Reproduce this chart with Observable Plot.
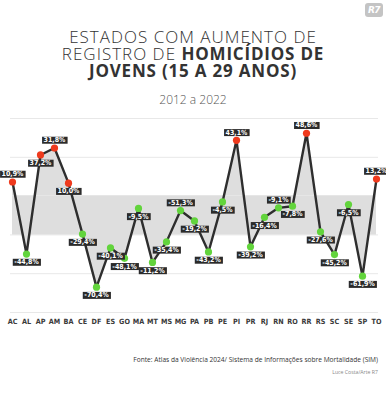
<!DOCTYPE html>
<html>
<head>
<meta charset="utf-8">
<script src="https://cdn.jsdelivr.net/npm/d3@7"></script>
<script src="https://cdn.jsdelivr.net/npm/@observablehq/plot@0.6"></script>
<style>
  html, body { margin: 0; padding: 0; background: #fff; }
  body { width: 386px; height: 400px; position: relative; overflow: hidden; font-family: "Open Sans", sans-serif; }
  #logo { position: absolute; left: 365px; top: 3px; width: 18px; height: 14px; background: #c4c4c4; border-radius: 3px;
          color: #fff; font: italic 700 9px/14px "DejaVu Sans", sans-serif; text-align: center; letter-spacing: -0.5px; }
  #title { position: absolute; top: 28px; left: 0; width: 386px; text-align: center; color: #333;
           font-size: 17px; line-height: 17px; font-weight: 300; letter-spacing: 1px; }
  #title div { height: 17px; }
  #title b { font-weight: 700; letter-spacing: 0.8px; }
  #sub { position: absolute; top: 91px; left: 0; width: 386px; text-align: center; color: #555; font-size: 12px; font-weight: 300; }
  #chart { position: absolute; top: 108px; left: 0; }
  #src { position: absolute; top: 355px; right: 8px; font-size: 6.6px; color: #333; }
  #credit { position: absolute; top: 368px; right: 8px; font-size: 5.2px; color: #888; }
</style>
</head>
<body>
<div id="logo">R7</div>
<div id="title"><div>ESTADOS COM AUMENTO DE</div><div>REGISTRO DE <b>HOMICÍDIOS DE</b></div><div><b>JOVENS (15 A 29 ANOS)</b></div></div>
<div id="sub">2012 a 2022</div>
<div id="chart"></div>
<div id="src">Fonte: Atlas da Violência 2024/ Sistema de Informações sobre Mortalidade (SIM)</div>
<div id="credit">Luce Costa/Arte R7</div>
<script>
// States (x categories)
const states = ["AC","AL","AP","AM","BA","CE","DF","ES","GO","MA","MT","MS","MG","PA","PB","PE","PI","PR","RJ","RN","RO","RR","RS","SC","SE","SP","TO"];
// Level at which each point is drawn in the reference (%)
const plotted = [10.9,-44.8,31.8,37.2,10.0,-29.4,-70.4,-40.1,-48.1,-9.5,-51.3,-35.4,-11.2,-19.2,-43.2,-4.5,43.1,-39.2,-16.4,-9.1,-7.8,48.6,-27.6,-45.2,-6.5,-61.9,13.2];
// Printed label values (%)
const printed = [10.9,-44.8,37.2,31.8,10.0,-29.4,-70.4,-40.1,-48.1,-9.5,-11.2,-35.4,-51.3,-19.2,-43.2,-4.5,43.1,-39.2,-16.4,-9.1,-7.8,48.6,-27.6,-45.2,-6.5,-61.9,13.2];
// States whose label sits above the point
const labelAbove = ["AC","AM","MG","PI","RN","RR","TO"];
// Grid levels and band
const gridLevels = [60, 30, -30, -60, -90];
const band = [-30, 0];

const data = states.map((s, i) => ({
  state: s, v: plotted[i], p: printed[i],
  label: printed[i].toFixed(1).replace(".", ",") + "%",
  above: labelAbove.includes(s)
}));

const fontCond = '"Liberation Sans Narrow", "DejaVu Sans Condensed", sans-serif';

const plot = Plot.plot({
  width: 386, height: 224,
  marginTop: 10, marginBottom: 20, marginLeft: 10, marginRight: 8,
  style: { fontFamily: fontCond, fontSize: "7.2px", color: "#333", background: "transparent" },
  x: { type: "point", domain: states, padding: 0, label: null, tickSize: 0, tickPadding: 6 },
  y: { domain: [-90, 60], axis: null },
  marks: [
    Plot.ruleY(gridLevels, { stroke: "#e8e8e8", strokeWidth: 1 }),
    Plot.areaY(data, { x: "state", y1: () => band[0], y2: () => band[1], fill: "#dedede", curve: "linear" }),
    Plot.areaY(data, { x: "state", y1: () => 0, y2: "v", fill: "#dedede", curve: "linear" }),
    Plot.line(data, { x: "state", y: "v", stroke: "#2e2e2e", strokeWidth: 2.4, curve: "linear" }),
    Plot.dot(data, { x: "state", y: "v", r: 3.6, fill: d => d.p >= 0 ? "#ef3a1d" : "#62d43c", stroke: "none" }),
    Plot.text(data.filter(d => d.above), { x: "state", y: "v", text: "label", dy: -8, fill: "#fff", fontWeight: "bold", fontSize: 7 }),
    Plot.text(data.filter(d => !d.above), { x: "state", y: "v", text: "label", dy: 8, fill: "#fff", fontWeight: "bold", fontSize: 7 })
  ]
});

document.getElementById("chart").appendChild(plot);

// Bolder state tick labels
d3.select(plot).selectAll('g[aria-label="x-axis tick label"] text, g[aria-label="x-axis"] text')
  .attr("font-weight", "bold").attr("fill", "#3a3a3a");

// Dark boxes behind the value labels (copy each text's own placement)
d3.select(plot).selectAll('g[aria-label="text"] text').each(function () {
  const b = this.getBBox();
  const r = d3.select(this.parentNode).insert("rect", () => this)
    .attr("x", b.x - 1.5).attr("y", b.y + 0.5)
    .attr("width", b.width + 3).attr("height", b.height - 1)
    .attr("fill", "#2b2b2b");
  const t = this.getAttribute("transform");
  if (t) r.attr("transform", t);
});
</script>
</body>
</html>
